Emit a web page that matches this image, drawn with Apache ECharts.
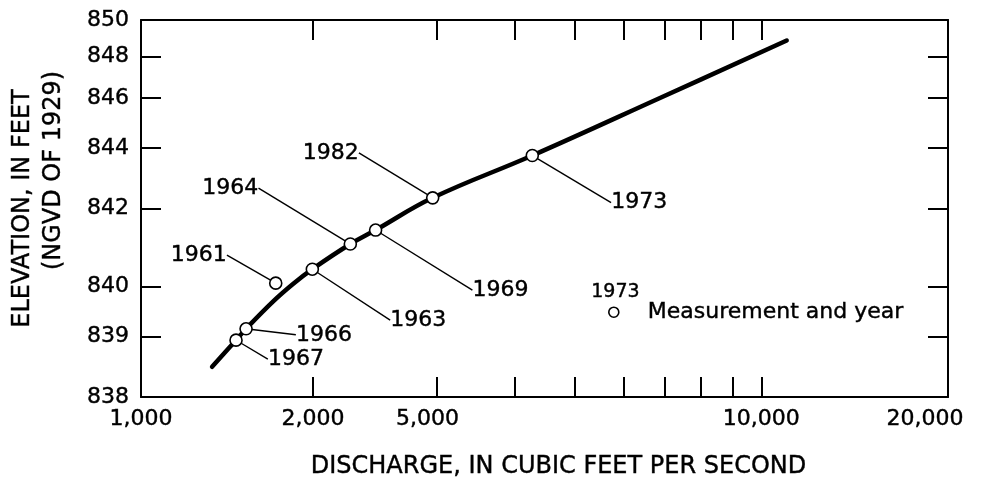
<!DOCTYPE html>
<html><head><meta charset="utf-8">
<script src="https://cdn.jsdelivr.net/npm/echarts@6/dist/echarts.min.js"></script>
<style>html,body{margin:0;padding:0;background:#fff}#c{width:981px;height:493px}</style>
</head><body><div id="c"></div>
<script>
// ---- data ----
const years = ['1967', '1966', '1961', '1963', '1964', '1969', '1982', '1973'];
const measQ = [1423, 1477, 1649, 1889, 2175, 2389, 2953, 4274];
const measH = [838.93, 839.14, 840.08, 840.40, 841.02, 841.39, 842.32, 843.72];

const curveQ = [1302, 1423, 1477, 1632, 1758, 1889, 2175, 2389, 2953, 4274, 6865, 10990];
const curveH = [838.47, 838.93, 839.14, 839.68, 840.06, 840.40, 841.02, 841.39, 842.32, 843.72, 846.01, 848.84];

// tick labels as printed (and the discharge at which each printed label sits)
const xLabelText = ['1,000', '2,000', '5,000', '10,000', '20,000'];
const xLabelAt = [1000, 1894, 2897, 10000, 18360];
const xTickAt = [1894, 3000, 4000, 5000, 6000, 7000, 8000, 9000, 10000];
const yLabels = [838, 839, 840, 842, 844, 846, 848, 850];
const yTicks = [839, 840, 842, 844, 846, 848];

// ---- scale transforms (log discharge, log of stage above 834 ft offset) ----
const OFFSET = 834;
const tx = q => Math.log10(q);
const ty = h => Math.log10(h - OFFSET);

// label offsets (px) for the year annotations
const labelShift = {
  '1967': [60, 19], '1966': [78, 6], '1961': [-77, -28], '1963': [106, 51],
  '1964': [-120, -56], '1969': [125, 60], '1982': [-102, -45], '1973': [107, 47]
};

const FONT = 'DejaVu Sans';
const black = '#000';
const thick = { textBorderColor: '#000', textBorderWidth: 0.4 };

const xMin = tx(1000), xMax = tx(20000);
const yMin = ty(838), yMax = ty(850);

function xAxisCfg(pos, showLabel) {
  return {
    type: 'value', position: pos, min: xMin, max: xMax,
    axisLine: { show: true, onZero: false, lineStyle: { color: black, width: 2 } },
    axisTick: { show: true, inside: true, length: 20, lineStyle: { color: black, width: 2 },
      customValues: xTickAt.map(tx) },
    axisLabel: Object.assign({
      show: showLabel, color: black, fontFamily: FONT, fontSize: 22, margin: 11,
      customValues: xLabelAt.map(tx),
      formatter: v => {
        let best = 0, d = Infinity;
        xLabelAt.forEach((q, i) => { const dd = Math.abs(tx(q) - v); if (dd < d) { d = dd; best = i; } });
        return xLabelText[best];
      }
    }, thick),
    splitLine: { show: false }
  };
}
function yAxisCfg(pos, showLabel) {
  return {
    type: 'value', position: pos, min: yMin, max: yMax,
    axisLine: { show: true, onZero: false, lineStyle: { color: black, width: 2 } },
    axisTick: { show: true, inside: true, length: 20, lineStyle: { color: black, width: 2 },
      customValues: yTicks.map(ty) },
    axisLabel: Object.assign({
      show: showLabel, color: black, fontFamily: FONT, fontSize: 22, margin: 12,
      customValues: yLabels.map(ty),
      formatter: v => String(Math.round(OFFSET + Math.pow(10, v)))
    }, thick),
    splitLine: { show: false }
  };
}

const xA = xAxisCfg('bottom', true);
xA.name = 'DISCHARGE, IN CUBIC FEET PER SECOND';
xA.nameLocation = 'middle';
xA.nameGap = 58;
xA.nameTextStyle = Object.assign({ color: black, fontFamily: FONT, fontSize: 24, padding: [0, 0, 0, 28] }, thick);

const yA = yAxisCfg('left', true);
yA.name = '{a|ELEVATION, IN FEET}\n{b|(NGVD OF 1929)}';
yA.nameLocation = 'middle';
yA.nameGap = 72;
yA.nameTextStyle = {
  color: black, fontFamily: FONT, fontSize: 24,
  rich: {
    a: Object.assign({ fontFamily: FONT, fontSize: 24, lineHeight: 31, color: black }, thick),
    b: Object.assign({ fontFamily: FONT, fontSize: 24, lineHeight: 31, color: black, padding: [0, 0, 0, 76] }, thick)
  }
};

const chart = echarts.init(document.getElementById('c'));
chart.setOption({
  backgroundColor: '#fff',
  animation: false,
  grid: { left: 141, right: 33, top: 20, bottom: 96, containLabel: false },
  xAxis: [xA, xAxisCfg('top', false)],
  yAxis: [yA, yAxisCfg('right', false)],
  legend: {
    data: ['Measurement and year'],
    left: 603, top: 296,
    icon: 'circle', itemWidth: 10, itemHeight: 10,
    itemStyle: { color: '#fff', borderColor: black, borderWidth: 1.6, opacity: 1 },
    textStyle: Object.assign({ color: black, fontFamily: FONT, fontSize: 22, padding: [0, 0, 0, 24] }, thick)
  },
  graphic: [{
    type: 'text', left: 591, top: 282,
    style: { text: '1973', fill: black, font: '19px "DejaVu Sans"', stroke: '#000', lineWidth: 0.4 }
  }],
  series: [
    {
      name: 'Rating curve', type: 'line', xAxisIndex: 0, yAxisIndex: 0,
      data: curveQ.map((q, i) => [tx(q), ty(curveH[i])]),
      smooth: 0.4, showSymbol: false, symbol: 'none',
      lineStyle: { color: black, width: 4.5, cap: 'round' }, z: 2
    },
    {
      name: 'Measurement and year', type: 'scatter', xAxisIndex: 0, yAxisIndex: 0,
      data: measQ.map((q, i) => ({ value: [tx(q), ty(measH[i])], name: years[i] })),
      symbol: 'circle', symbolSize: 12,
      itemStyle: { color: '#fff', borderColor: black, borderWidth: 1.6, opacity: 1 },
      label: Object.assign({
        show: true, position: 'inside', formatter: p => p.name,
        color: black, fontFamily: FONT, fontSize: 22, opacity: 1
      }, thick),
      labelLine: { show: true, lineStyle: { color: black, width: 1.4, opacity: 1 } },
      labelLayout: p => {
        const s = labelShift[years[p.dataIndex]];
        return { dx: s[0], dy: s[1] };
      },
      z: 5
    }
  ]
});
</script></body></html>
